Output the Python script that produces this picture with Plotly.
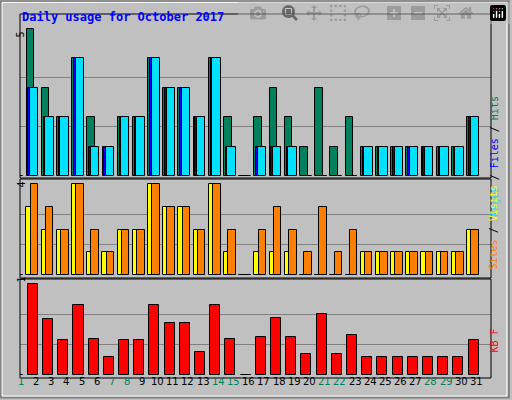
import plotly.graph_objects as go

days = list(range(1, 32))
hits = [0, 5, 3, 2, 4, 2, 1, 2, 2, 4, 3, 3, 2, 4, 2, 0,
        2, 3, 2, 1, 3, 1, 2, 1, 1, 1, 1, 1, 1, 1, 2]
files = [0, 3, 2, 2, 4, 1, 1, 2, 2, 4, 3, 3, 2, 4, 1, 0,
         1, 1, 1, 0, 0, 0, 0, 1, 1, 1, 1, 1, 1, 1, 2]
pages = [0, 3, 2, 2, 4, 1, 1, 2, 2, 4, 3, 3, 2, 4, 1, 0,
         1, 1, 1, 0, 0, 0, 0, 1, 1, 1, 1, 1, 1, 1, 2]
visits = [0, 3, 2, 2, 4, 1, 1, 2, 2, 4, 3, 3, 2, 4, 1, 0,
          1, 1, 1, 0, 0, 0, 0, 1, 1, 1, 1, 1, 1, 1, 2]
sites = [0, 4, 3, 2, 4, 2, 1, 2, 2, 4, 3, 3, 2, 4, 2, 0,
         2, 3, 2, 1, 3, 1, 2, 1, 1, 1, 1, 1, 1, 1, 2]
kbytes = [0, 1.0, 0.61, 0.38, 0.77, 0.40, 0.195, 0.38, 0.38, 0.77, 0.57, 0.57, 0.25, 0.77, 0.40, 0,
          0.415, 0.625, 0.415, 0.228, 0.67, 0.228, 0.44, 0.195, 0.195, 0.195, 0.195, 0.195, 0.195, 0.195, 0.38]
weekend = [1, 7, 8, 14, 15, 21, 22, 28, 29]

FONT = "DejaVu Sans Mono"
line = dict(color="black", width=1)


def shifted(off):
    return [d + off for d in days]


fig = go.Figure()
fig.add_bar(x=shifted(-0.27), y=hits, width=0.5, marker=dict(color="#00805c", line=line), yaxis="y")
fig.add_bar(x=shifted(-0.1), y=files, width=0.6, marker=dict(color="#0000ff", line=line), yaxis="y")
fig.add_bar(x=shifted(-0.02), y=pages, width=0.55, marker=dict(color="#00e0ff", line=line), yaxis="y")
fig.add_bar(x=shifted(-0.25), y=visits, width=0.55, marker=dict(color="#ffff00", line=line), yaxis="y2")
fig.add_bar(x=shifted(0.0), y=sites, width=0.5, marker=dict(color="#ff8000", line=line), yaxis="y2")
fig.add_bar(x=shifted(-0.1), y=kbytes, width=0.66, marker=dict(color="#ff0000", line=line), yaxis="y3")

xd = [20 / 512, 491 / 512]
ax = dict(showticklabels=False, showgrid=True, gridcolor="#808080", zeroline=False,
          showline=False, ticks="")
fig.update_layout(
    width=512, height=400, margin=dict(l=0, r=0, t=0, b=0),
    paper_bgcolor="#c0c0c0", plot_bgcolor="#c0c0c0",
    barmode="overlay", showlegend=False, bargap=0,
    xaxis=dict(domain=xd, range=[1.05, 32.05], showticklabels=False, showgrid=False,
               zeroline=False, anchor="y3"),
    yaxis=dict(ax, domain=[1 - 178 / 400, 1 - 14 / 400], range=[-0.07, 5.51],
               tickvals=[5 / 3, 10 / 3]),
    yaxis2=dict(ax, domain=[1 - 278 / 400, 1 - 180 / 400], range=[-0.13, 4.18],
                tickvals=[4 / 3, 8 / 3]),
    yaxis3=dict(ax, domain=[1 - 378 / 400, 1 - 280 / 400], range=[-0.033, 1.044],
                tickvals=[1 / 3, 2 / 3]),
)

# panel frames
for y0, y1 in [(14, 178), (179, 278), (279, 378)]:
    fig.add_shape(type="rect", xref="paper", yref="paper", x0=xd[0], x1=xd[1],
                  y0=1 - y1 / 400, y1=1 - y0 / 400, line=dict(color="black", width=1))
# bevelled outer frame
fig.add_shape(type="rect", xref="paper", yref="paper", x0=0.002, x1=0.994, y0=0.006, y1=0.997,
              line=dict(color="#808080", width=2))
fig.add_shape(type="rect", xref="paper", yref="paper", x0=0.004, x1=0.99, y0=0.01, y1=0.994,
              line=dict(color="white", width=1))

ann = [
    dict(x=20 / 512, y=1 - 8 / 400, text="<b>Daily usage for October 2017</b>", xanchor="left",
         font=dict(color="#0000ff", size=12, family=FONT)),
    dict(x=13 / 512, y=1 - 30 / 400, text="5", textangle=-90, font=dict(size=10, family=FONT, color="black")),
    dict(x=13 / 512, y=1 - 185 / 400, text="4", textangle=-90, font=dict(size=10, family=FONT, color="black")),
    dict(x=13 / 512, y=1 - 285 / 400, text="1", textangle=-90, font=dict(size=10, family=FONT, color="black")),
    dict(x=501 / 512, y=1 - 95 / 400, textangle=-90, font=dict(size=10, family=FONT, color="black"),
         text="<span style='color:#00e0ff'>Pages</span> / <span style='color:#0000ff'>Files</span>"
              " / <span style='color:#00805c'>Hits</span>"),
    dict(x=501 / 512, y=1 - 228 / 400, textangle=-90, font=dict(size=10, family=FONT, color="black"),
         text="<span style='color:#ff8000'>Sites</span> / <span style='color:#ffff00'>Visits</span>"),
    dict(x=501 / 512, y=1 - 355 / 400, textangle=-90, font=dict(size=10, family=FONT, color="#ff0000"),
         text="KB F"),
]
for d in days:
    ann.append(dict(x=d + 0.1, xref="x", y=1 - 389 / 400, text=str(d),
                    font=dict(size=10, family="DejaVu Sans",
                              color="#00805c" if d in weekend else "black")))
for a in ann:
    a.setdefault("xref", "paper")
    a["yref"] = "paper"
    a["showarrow"] = False
    fig.add_annotation(**a)

fig.write_html("out.html", post_script="document.body.style.margin='0';")
